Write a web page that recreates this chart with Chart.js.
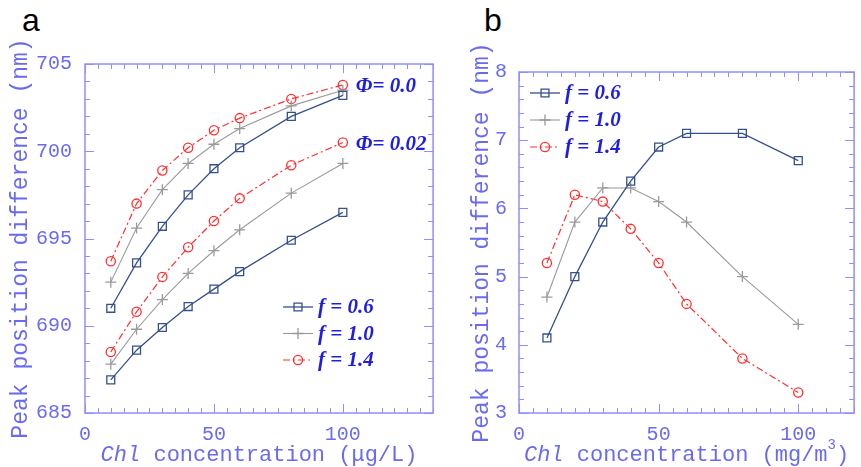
<!DOCTYPE html>
<html><head><meta charset="utf-8">
<script src="https://cdn.jsdelivr.net/npm/chart.js@4.4.1/dist/chart.umd.min.js"></script>
<style>
html,body{margin:0;padding:0;background:#fff;}
body{width:861px;height:467px;position:relative;overflow:hidden;}
canvas{position:absolute;top:0;}
#ca{left:0;} #cb{left:440px;}
.panel{position:absolute;font-family:'Liberation Sans',Arial,sans-serif;font-size:32px;color:#000;line-height:1;}
</style></head><body>
<div class="panel" style="left:22px;top:4px">a</div>
<div class="panel" style="left:484px;top:4px">b</div>
<canvas id="ca" width="440" height="467"></canvas>
<canvas id="cb" width="421" height="467"></canvas>
<script>
// ---------- data ----------
const chlA = [10, 20, 30, 40, 50, 60, 80, 100];
const a_phi0_f06 = [691.0, 693.6, 695.7, 697.5, 699.0, 700.2, 702.0, 703.2];
const a_phi0_f10 = [692.5, 695.6, 697.8, 699.3, 700.4, 701.3, 702.6, 703.5];
const a_phi0_f14 = [693.7, 697.0, 698.9, 700.2, 701.2, 701.9, 703.0, 703.8];
const a_phi002_f06 = [686.9, 688.6, 689.9, 691.1, 692.1, 693.1, 694.9, 696.5];
const a_phi002_f10 = [687.8, 689.8, 691.5, 693.0, 694.3, 695.5, 697.6, 699.3];
const a_phi002_f14 = [688.5, 690.8, 692.8, 694.5, 696.0, 697.3, 699.2, 700.5];

const chlB = [10, 20, 30, 40, 50, 60, 80, 100];
const b_f06 = [4.1, 5.0, 5.8, 6.4, 6.9, 7.1, 7.1, 6.7];
const b_f10 = [4.7, 5.8, 6.3, 6.3, 6.1, 5.8, 5.0, 4.3];
const b_f14 = [5.2, 6.2, 6.1, 5.7, 5.2, 4.6, 3.8, 3.3];

const legendLabels = ['f = 0.6', 'f = 1.0', 'f = 1.4'];
const phiLabels = ['Φ= 0.0', 'Φ= 0.02'];
const yTitleText = 'Peak position difference (nm)';
const xTitleA = [{text: 'Chl', italic: true}, {text: ' concentration (μg/L)'}];
const xTitleB = [{text: 'Chl', italic: true}, {text: ' concentration (mg/m'}, {text: '3', sup: true}, {text: ')'}];
const rangeAx = [0, 135], rangeAy = [685, 705];
const rangeBx = [0, 120], rangeBy = [3, 8];

// ---------- styles ----------
const AXIS = '#8e8eff', LABEL = '#6a6af0', ANNO = '#1e1ee0';
const MONO = "'Liberation Mono', 'Courier New', monospace";
const SERIF = "'Liberation Serif', 'Times New Roman', serif";
const styles = [
  {color: '#34508c', pointStyle: 'rect', radius: 5.6, dash: [], width: 1.3},
  {color: '#9a9a9a', pointStyle: 'cross', radius: 5.5, dash: [], width: 1.1},
  {color: '#ff2e2e', pointStyle: 'circle', radius: 4.6, dash: [7, 3, 2, 3], width: 1.2}
];
function mkDs(label, xs, ys, s) {
  return {
    label, data: xs.map((x, i) => ({x, y: ys[i]})),
    borderColor: s.color, backgroundColor: 'rgba(0,0,0,0)', borderWidth: s.width,
    borderDash: s.dash, pointStyle: s.pointStyle, pointRadius: s.radius,
    pointHoverRadius: s.radius, pointBorderColor: s.color,
    pointBackgroundColor: 'rgba(0,0,0,0)', pointBorderWidth: 1.3, tension: 0
  };
}

function drawMarker(ctx, style, x, y, r, color, lw) {
  ctx.save();
  ctx.strokeStyle = color; ctx.lineWidth = lw; ctx.setLineDash([]);
  ctx.beginPath();
  if (style === 'rect') { const h = r * Math.SQRT1_2; ctx.rect(x - h, y - h, 2 * h, 2 * h); }
  else if (style === 'cross') { ctx.moveTo(x - r, y); ctx.lineTo(x + r, y); ctx.moveTo(x, y - r); ctx.lineTo(x, y + r); }
  else { ctx.arc(x, y, r, 0, Math.PI * 2); }
  ctx.stroke();
  ctx.restore();
}

// ---------- plugins ----------
const framePlugin = {
  id: 'frame',
  afterDraw(chart, args, o) {
    const {ctx, chartArea: a} = chart;
    const x = chart.scales.x, y = chart.scales.y;
    ctx.save();
    ctx.strokeStyle = o.color; ctx.lineWidth = 1.5;
    ctx.strokeRect(a.left, a.top, a.right - a.left, a.bottom - a.top);
    ctx.lineWidth = 1;
    const majX = x.ticks.map(t => t.value), majY = y.ticks.map(t => t.value);
    const isMaj = (arr, v) => arr.some(m => Math.abs(m - v) < 1e-6);
    const seg = (x1, y1, x2, y2) => { ctx.beginPath(); ctx.moveTo(x1, y1); ctx.lineTo(x2, y2); ctx.stroke(); };
    for (let i = 0; ; i++) {
      const v = x.min + i * o.minorX; if (v > x.max + 1e-9) break;
      const p = Math.round(x.getPixelForValue(v)) + 0.5; const L = isMaj(majX, v) ? o.major : o.minor;
      seg(p, a.bottom, p, a.bottom - L); seg(p, a.top, p, a.top + L);
    }
    for (let i = 0; ; i++) {
      const v = y.min + i * o.minorY; if (v > y.max + 1e-9) break;
      const p = Math.round(y.getPixelForValue(v)) + 0.5; const L = isMaj(majY, v) ? o.major : o.minor;
      seg(a.left, p, a.left + L, p); seg(a.right, p, a.right - L, p);
    }
    ctx.restore();
  }
};
const xTitlePlugin = {
  id: 'xTitle',
  afterDraw(chart, args, o) {
    const ctx = chart.ctx, size = o.size;
    const fontFor = p => `${p.italic ? 'italic ' : ''}${p.sup ? Math.round(size * 0.62) : size}px ${o.family}`;
    let w = 0;
    o.parts.forEach(p => { ctx.font = fontFor(p); w += ctx.measureText(p.text).width; });
    let x = (chart.chartArea.left + chart.chartArea.right) / 2 - w / 2;
    ctx.save(); ctx.fillStyle = o.color; ctx.textBaseline = 'middle'; ctx.textAlign = 'left';
    o.parts.forEach(p => { ctx.font = fontFor(p); ctx.fillText(p.text, x, o.y - (p.sup ? size * 0.45 : 0)); x += ctx.measureText(p.text).width; });
    ctx.restore();
  }
};
const legendPlugin = {
  id: 'fLegend',
  afterDraw(chart, args, o) {
    const ctx = chart.ctx; ctx.save();
    o.labels.forEach((lab, i) => {
      const ds = chart.data.datasets[o.indices[i]]; const y = o.y + i * o.gap;
      ctx.strokeStyle = ds.borderColor; ctx.lineWidth = ds.borderWidth; ctx.setLineDash(ds.borderDash || []);
      ctx.beginPath(); ctx.moveTo(o.x, y); ctx.lineTo(o.x + o.len, y); ctx.stroke(); ctx.setLineDash([]);
      drawMarker(ctx, ds.pointStyle, o.x + o.len / 2, y, ds.pointRadius, ds.borderColor, ds.pointBorderWidth);
      ctx.fillStyle = o.color; ctx.font = o.font; ctx.textBaseline = 'middle'; ctx.textAlign = 'left';
      ctx.fillText(lab, o.x + o.len + o.textGap, y + 1);
    });
    ctx.restore();
  }
};
const phiPlugin = {
  id: 'phi',
  afterDraw(chart, args, o) {
    if (!o.labels) return;
    const ctx = chart.ctx; ctx.save();
    ctx.fillStyle = o.color; ctx.font = o.font; ctx.textBaseline = 'middle'; ctx.textAlign = 'left';
    o.labels.forEach((lab, i) => {
      const ds = chart.data.datasets[o.indices[i]]; const last = ds.data[ds.data.length - 1];
      ctx.fillText(lab, chart.scales.x.getPixelForValue(last.x) + o.dx, chart.scales.y.getPixelForValue(last.y) + o.dy);
    });
    ctx.restore();
  }
};

function makeOptions(cfg) {
  return {
    responsive: false, animation: false, devicePixelRatio: 1,
    layout: {padding: cfg.padding},
    plugins: {
      legend: {display: false}, tooltip: {enabled: false},
      frame: {color: AXIS, minorX: cfg.minorX, minorY: cfg.minorY, major: 9, minor: 5},
      xTitle: {parts: cfg.xTitle, size: 22, family: MONO, color: LABEL, y: cfg.xTitleY},
      fLegend: {labels: legendLabels, indices: [0, 1, 2], x: cfg.legX, y: cfg.legY, gap: cfg.legGap, len: 30, textGap: 5,
                font: `italic bold 21px ${SERIF}`, color: ANNO},
      phi: cfg.phi || {}
    },
    scales: {
      x: {type: 'linear', min: cfg.xr[0], max: cfg.xr[1],
          grid: {display: false}, border: {display: false},
          ticks: {stepSize: 50, includeBounds: false, color: LABEL, padding: 2, font: {family: MONO, size: 20}},
          afterFit(s) { s.height = cfg.xH; }},
      y: {type: 'linear', min: cfg.yr[0], max: cfg.yr[1],
          grid: {display: false}, border: {display: false},
          ticks: {stepSize: cfg.yStep, includeBounds: false, color: LABEL, padding: cfg.yPad, font: {family: MONO, size: 20}},
          title: {display: true, text: yTitleText, color: LABEL, font: {family: MONO, size: 23}, padding: {top: 7, bottom: 0}},
          afterFit(s) { s.width = cfg.yW; }}
    }
  };
}

new Chart(document.getElementById('ca'), {
  type: 'line',
  data: {datasets: [
    mkDs('f = 0.6 (Φ=0.0)', chlA, a_phi0_f06, styles[0]),
    mkDs('f = 1.0 (Φ=0.0)', chlA, a_phi0_f10, styles[1]),
    mkDs('f = 1.4 (Φ=0.0)', chlA, a_phi0_f14, styles[2]),
    mkDs('f = 0.6 (Φ=0.02)', chlA, a_phi002_f06, styles[0]),
    mkDs('f = 1.0 (Φ=0.02)', chlA, a_phi002_f10, styles[1]),
    mkDs('f = 1.4 (Φ=0.02)', chlA, a_phi002_f14, styles[2])
  ]},
  options: makeOptions({padding: {left: 0, top: 64, right: 6, bottom: 0}, xr: rangeAx, yr: rangeAy, yStep: 5,
    minorX: 5, minorY: 1, xH: 54, yW: 85, yPad: 5, xTitle: xTitleA, xTitleY: 455,
    legX: 283, legY: 307, legGap: 26.5,
    phi: {labels: phiLabels, indices: [2, 5], dx: 13, dy: 2, font: `italic bold 21px ${SERIF}`, color: ANNO}}),
  plugins: [framePlugin, xTitlePlugin, legendPlugin, phiPlugin]
});

new Chart(document.getElementById('cb'), {
  type: 'line',
  data: {datasets: [
    mkDs('f = 0.6', chlB, b_f06, styles[0]),
    mkDs('f = 1.0', chlB, b_f10, styles[1]),
    mkDs('f = 1.4', chlB, b_f14, styles[2])
  ]},
  options: makeOptions({padding: {left: 21, top: 72, right: 1, bottom: 0}, xr: rangeBx, yr: rangeBy, yStep: 1,
    minorX: 5, minorY: 0.2, xH: 54, yW: 58, yPad: 4, xTitle: xTitleB, xTitleY: 455,
    legX: 90, legY: 93, legGap: 27}),
  plugins: [framePlugin, xTitlePlugin, legendPlugin, phiPlugin]
});
</script>
</body></html>
